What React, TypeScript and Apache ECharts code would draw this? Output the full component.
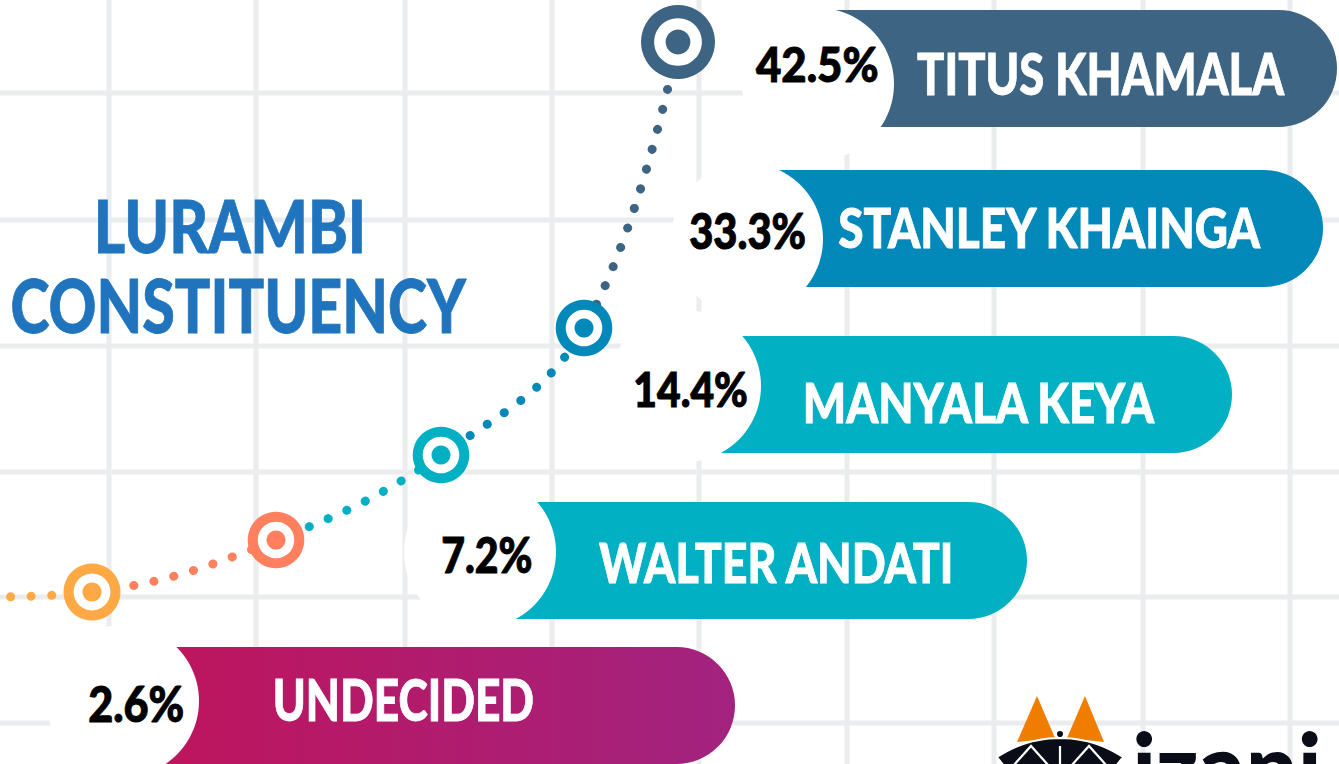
import React, { useEffect, useRef } from 'react';
import * as echarts from 'echarts';

const WIDTH = 1339;
const HEIGHT = 764;

// ---------------- data ----------------
const candidates = ['TITUS KHAMALA', 'STANLEY KHAINGA', 'MANYALA KEYA', 'WALTER ANDATI', 'UNDECIDED'];
const shares = [42.5, 33.3, 14.4, 7.2, 2.6];
const shareLabels = shares.map((v) => v.toFixed(1) + '%');
const titleLines = ['LURAMBI', 'CONSTITUENCY'];
const brandText = 'izani';

// ---------------- layout (chart units, 1 unit = 1 px) ----------------
const gridXs = [109, 256, 405, 552, 699, 847, 994, 1143, 1290];
const gridYs = [93, 220, 346, 472, 597, 723];
const barTop = [10, 170, 336, 502, 647];
const barHeight = 117;
const barRight = [1337, 1323, 1232, 1027, 735];
const blobX = [818, 747, 685, 480, 123];
const blobY = [84, 239, 386, 552, 701];
const blobR = 76;
const markerX = [678, 584, 441, 276, 92];
const markerY = [42, 328, 455, 540, 592];
const markerR = [37, 28.3, 28.3, 28.3, 28.5];
const curveStart = [-10, 597];
// [left, right, capCenterY, capHeight]
const nameBox = [
  [917, 1285, 74, 41.5],
  [839, 1263, 228, 40.5],
  [806, 1156, 403, 40],
  [599, 952, 563, 40],
  [275, 533, 701, 41.5],
];
const pctBox = [
  [756, 877, 64.5, 35],
  [690, 805, 231, 35.5],
  [635, 747, 390, 34.5],
  [443, 531, 555, 36],
  [89, 183, 703.5, 36.5],
];
const titleBox = [
  [98, 362, 226.5, 53],
  [12, 467, 306, 54],
];

// ---------------- styles ----------------
const GRID_COLOR = '#ebecee';
const TITLE_COLOR = '#1f74bd';
const barColors = ['#3d6482', '#0288b9', '#01b0c3', '#01b0c3', null];
const undecidedStops = ['#c0145b', '#a2237f'];
const markerColors = ['#3d6482', '#0288b9', '#01b0c3', '#ff7f5e', '#ffa944'];
const FAMILY = 'Lato, Roboto, "DejaVu Sans", sans-serif';
const WEIGHT = 900;

let mctx: CanvasRenderingContext2D | null = null;
function ctx2d() {
  if (!mctx) mctx = document.createElement('canvas').getContext('2d');
  return mctx as CanvasRenderingContext2D;
}
function capRatio(weight: number) {
  const c = ctx2d();
  c.font = `${weight} 100px ${FAMILY}`;
  const m = c.measureText('H');
  return m.actualBoundingBoxAscent / 100 || 0.72;
}
function fitText(text: string, weight: number, box: number[]) {
  const [left, right, cy, capH] = box;
  const ratio = capRatio(weight);
  const size = capH / ratio;
  const font = `${weight} ${size}px ${FAMILY}`;
  const c = ctx2d();
  c.font = font;
  const m = c.measureText(text);
  const ink = m.actualBoundingBoxLeft + m.actualBoundingBoxRight;
  const scaleX = (right - left) / ink;
  const x = left + m.actualBoundingBoxLeft * scaleX;
  const asc = m.fontBoundingBoxAscent || size * 0.93;
  const desc = m.fontBoundingBoxDescent || size * 0.24;
  const y = cy + (ratio * size) / 2 - (asc - desc) / 2;
  return { font, scaleX, x, y };
}

function textEl(text: string, fit: any, fill: string, strokeW = 0) {
  return {
    type: 'text',
    x: fit.x,
    y: fit.y,
    scaleX: fit.scaleX,
    style: {
      text,
      x: 0,
      y: 0,
      font: fit.font,
      fill,
      stroke: strokeW > 0 ? fill : undefined,
      lineWidth: strokeW,
      align: 'left',
      verticalAlign: 'middle',
      textAlign: 'left',
      textVerticalAlign: 'middle',
    },
  };
}

function buildOption() {
  const curvePts = [curveStart, ...markerX.map((x, i) => [x, markerY[i]]).reverse()];
  const sortedX = [...markerX].reverse(); // ascending
  const sortedC = [...markerColors].reverse();
  const pieces: any[] = [{ lt: sortedX[0], color: sortedC[0] }];
  for (let k = 0; k < sortedX.length - 1; k++) {
    pieces.push({ gte: sortedX[k], lt: sortedX[k + 1], color: sortedC[k + 1] });
  }
  pieces.push({ gte: sortedX[sortedX.length - 1], color: sortedC[sortedC.length - 1] });

  const nameFits = candidates.map((t, i) => fitText(t, WEIGHT, nameBox[i]));
  const pctFits = shareLabels.map((t, i) => fitText(t, WEIGHT, pctBox[i]));
  const titleFits = titleLines.map((t, i) => fitText(t, WEIGHT, titleBox[i]));

  // logo pieces
  const domeR = 114;
  const domeCx = 1060;
  const domeCy = 852;
  const t0 = Math.asin(63 / domeR);
  const dome: number[][] = [];
  for (let k = 0; k <= 24; k++) {
    const t = -t0 + (2 * t0 * k) / 24;
    dome.push([domeCx + domeR * Math.sin(t), domeCy - domeR * Math.cos(t)]);
  }
  dome.push([1116, 766], [1004, 766]);
  const c = ctx2d();
  const brandSize = 96;
  const brandFont = `${WEIGHT} ${brandSize}px ${FAMILY}`;
  c.font = brandFont;
  const bm = c.measureText(brandText);
  const bInk = bm.actualBoundingBoxLeft + bm.actualBoundingBoxRight;
  const bScale = (1318 - 1136) / bInk;
  const xm = c.measureText('x');
  const xh = xm.actualBoundingBoxAscent;
  const baseline = 752 + xh;
  const bAsc = bm.fontBoundingBoxAscent || brandSize * 0.93;
  const bDesc = bm.fontBoundingBoxDescent || brandSize * 0.24;
  const brandY = baseline - (bAsc - bDesc) / 2;

  return {
    animation: false,
    backgroundColor: '#ffffff',
    grid: { left: 0, right: 0, top: 0, bottom: 0 },
    xAxis: { type: 'value', min: 0, max: WIDTH, show: false },
    yAxis: { type: 'value', min: 0, max: HEIGHT, inverse: true, show: false },
    visualMap: {
      type: 'piecewise',
      show: false,
      dimension: 0,
      seriesIndex: 4,
      pieces,
    },
    series: [
      {
        type: 'custom',
        z: 0,
        silent: true,
        data: gridXs.map((x) => [x, 0]),
        encode: { x: 0, y: 1 },
        renderItem: (_p: any, api: any) => {
          const a = api.coord([api.value(0), 0]);
          const b = api.coord([api.value(0), HEIGHT]);
          return { type: 'line', shape: { x1: a[0], y1: a[1], x2: b[0], y2: b[1] }, style: { stroke: GRID_COLOR, lineWidth: 5 } };
        },
      },
      {
        type: 'custom',
        z: 0,
        silent: true,
        data: gridYs.map((y) => [0, y]),
        encode: { x: 0, y: 1 },
        renderItem: (_p: any, api: any) => {
          const a = api.coord([0, api.value(1)]);
          const b = api.coord([WIDTH, api.value(1)]);
          return { type: 'line', shape: { x1: a[0], y1: a[1], x2: b[0], y2: b[1] }, style: { stroke: GRID_COLOR, lineWidth: 5 } };
        },
      },
      {
        type: 'custom',
        z: 2,
        silent: true,
        data: candidates.map((name, i) => ({ name, value: [blobX[i], barTop[i], barRight[i], barTop[i] + barHeight, shares[i]] })),
        encode: { x: [0, 2], y: [1, 3] },
        renderItem: (p: any, api: any) => {
          const i = p.dataIndex;
          const a = api.coord([api.value(0), api.value(1)]);
          const b = api.coord([api.value(2), api.value(3)]);
          const h = b[1] - a[1];
          const fill = barColors[i]
            ? barColors[i]
            : new echarts.graphic.LinearGradient(0, 0, 1, 0, [
                { offset: 0, color: undecidedStops[0] },
                { offset: 1, color: undecidedStops[1] },
              ]);
          return {
            type: 'rect',
            shape: { x: a[0], y: a[1], width: b[0] - a[0], height: h, r: [0, h / 2, h / 2, 0] },
            style: { fill },
          };
        },
      },
      {
        type: 'custom',
        z: 3,
        silent: true,
        data: candidates.map((name, i) => ({ name, value: [blobX[i], blobY[i], blobR] })),
        encode: { x: 0, y: 1 },
        renderItem: (_p: any, api: any) => {
          const c0 = api.coord([api.value(0), api.value(1)]);
          const r = api.size([api.value(2), 0])[0];
          return { type: 'circle', shape: { cx: c0[0], cy: c0[1], r }, style: { fill: '#ffffff' } };
        },
      },
      {
        type: 'line',
        z: 4,
        silent: true,
        data: curvePts,
        smooth: 0.4,
        symbol: 'none',
        lineStyle: { width: 9, type: [0.1, 20.5], cap: 'round' },
      },
      {
        type: 'custom',
        z: 5,
        silent: true,
        data: candidates.map((name, i) => ({ name, value: [markerX[i], markerY[i], markerR[i]] })),
        encode: { x: 0, y: 1 },
        renderItem: (p: any, api: any) => {
          const c0 = api.coord([api.value(0), api.value(1)]);
          const r = api.size([api.value(2), 0])[0];
          const col = markerColors[p.dataIndex];
          return {
            type: 'group',
            children: [
              { type: 'circle', shape: { cx: c0[0], cy: c0[1], r }, style: { fill: col } },
              { type: 'circle', shape: { cx: c0[0], cy: c0[1], r: r * 0.645 }, style: { fill: '#ffffff' } },
              { type: 'circle', shape: { cx: c0[0], cy: c0[1], r: r * 0.335 }, style: { fill: col } },
            ],
          };
        },
      },
      {
        type: 'custom',
        z: 6,
        silent: true,
        data: shareLabels.map((t, i) => ({ name: t, value: [pctFits[i].x, pctFits[i].y] })),
        encode: { x: 0, y: 1 },
        renderItem: (p: any, api: any) => {
          const i = p.dataIndex;
          const c0 = api.coord([api.value(0), api.value(1)]);
          const el: any = textEl(shareLabels[i], pctFits[i], '#000000', 1);
          el.x = c0[0];
          el.y = c0[1];
          return el;
        },
      },
      {
        type: 'custom',
        z: 6,
        silent: true,
        data: candidates.map((t, i) => ({ name: t, value: [nameFits[i].x, nameFits[i].y] })),
        encode: { x: 0, y: 1 },
        renderItem: (p: any, api: any) => {
          const i = p.dataIndex;
          const c0 = api.coord([api.value(0), api.value(1)]);
          const el: any = textEl(candidates[i], nameFits[i], '#ffffff', 0.8);
          el.x = c0[0];
          el.y = c0[1];
          return el;
        },
      },
    ],
    graphic: [
      ...titleLines.map((t, i) => ({ ...textEl(t, titleFits[i], TITLE_COLOR, 0.8), z: 10 })),
      {
        type: 'polygon',
        z: 10,
        shape: { points: [[1017, 742], [1037, 696], [1055, 738]] },
        style: { fill: '#f07c00' },
      },
      {
        type: 'polygon',
        z: 10,
        shape: { points: [[1067, 738], [1085, 696], [1104, 742]] },
        style: { fill: '#f07c00' },
      },
      {
        type: 'polygon',
        z: 11,
        shape: { points: dome },
        style: { fill: '#0a0d18', stroke: '#ffffff', lineWidth: 2 },
      },
      {
        type: 'circle',
        z: 12,
        shape: { cx: 1060, cy: 734, r: 3.8 },
        style: { fill: '#0a0d18', stroke: '#ffffff', lineWidth: 1.5 },
      },
      {
        type: 'polyline',
        z: 12,
        shape: { points: [[1013, 766], [1031, 746], [1049, 766]] },
        style: { stroke: '#ffffff', lineWidth: 2.2, fill: null },
      },
      {
        type: 'polyline',
        z: 12,
        shape: { points: [[1071, 766], [1089, 746], [1107, 766]] },
        style: { stroke: '#ffffff', lineWidth: 2.2, fill: null },
      },
      {
        type: 'polyline',
        z: 12,
        shape: { points: [[1060, 746], [1060, 766]] },
        style: { stroke: '#ffffff', lineWidth: 2.2, fill: null },
      },
      {
        type: 'text',
        z: 12,
        x: 1136 + bm.actualBoundingBoxLeft * bScale,
        y: brandY,
        scaleX: bScale,
        style: {
          text: brandText,
          x: 0,
          y: 0,
          font: brandFont,
          fill: '#0a0d18',
          align: 'left',
          verticalAlign: 'middle',
          textAlign: 'left',
          textVerticalAlign: 'middle',
        },
      },
    ],
  };
}

export default function App() {
  const ref = useRef<HTMLDivElement>(null);
  useEffect(() => {
    document.body.style.margin = '0';
    const el = ref.current as HTMLDivElement;
    const chart = echarts.init(el, undefined, { renderer: 'svg', width: WIDTH, height: HEIGHT });
    chart.setOption(buildOption() as any);
    return () => chart.dispose();
  }, []);
  return (
    <div
      ref={ref}
      style={{ position: 'absolute', left: 0, top: 0, width: WIDTH, height: HEIGHT, background: '#ffffff', overflow: 'hidden' }}
    />
  );
}
